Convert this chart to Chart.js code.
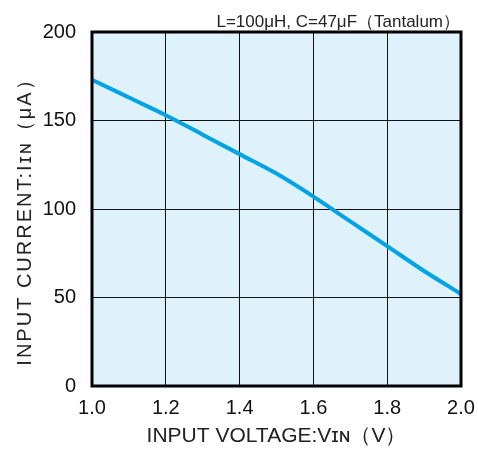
<!DOCTYPE html>
<html><head><meta charset="utf-8">
<script src="https://cdn.jsdelivr.net/npm/chart.js@4/dist/chart.umd.min.js"></script>
<style>html,body{margin:0;padding:0;background:#fff}#wrap{width:478px;height:453px}</style>
</head><body><div id="wrap"><canvas id="c" width="478" height="453"></canvas></div>
<script>
const voltages = [1.0, 1.1, 1.2, 1.3, 1.4, 1.5, 1.6, 1.7, 1.8, 1.9, 2.0];
const currents = [173, 163, 153, 142, 131, 120, 107, 93, 79, 65, 52];
const xTicks = [1.0, 1.2, 1.4, 1.6, 1.8, 2.0];
const yTicks = [0, 50, 100, 150, 200];
const noteText = 'L=100\u03BCH, C=47\u03BCF\uFF08Tantalum\uFF09';
const xTitle = 'INPUT VOLTAGE:V\u026A\u0274\uFF08V\uFF09';
const yTitle = 'INPUT CURRENT:I\u026A\u0274\uFF08\u03BCA\uFF09';

const FONT = '"Liberation Sans", Arial, sans-serif';

const bgPlugin = {
  id: 'bg',
  beforeDraw(chart) {
    const a = chart.chartArea, ctx = chart.ctx;
    ctx.save(); ctx.fillStyle = '#dff1fa';
    ctx.fillRect(a.left, a.top, a.right - a.left, a.bottom - a.top);
    ctx.restore();
  },
  afterDatasetsDraw(chart) {
    const a = chart.chartArea, ctx = chart.ctx;
    ctx.save(); ctx.strokeStyle = '#000'; ctx.lineWidth = 3;
    ctx.strokeRect(a.left, a.top, a.right - a.left, a.bottom - a.top);
    ctx.restore();
  },
  afterDraw(chart) {
    const a = chart.chartArea, ctx = chart.ctx;
    ctx.save();
    ctx.fillStyle = '#222';
    ctx.font = '17px ' + FONT;
    ctx.textAlign = 'right'; ctx.textBaseline = 'alphabetic';
    ctx.fillText(noteText, a.right - 1, a.top - 5);
    ctx.translate(31, (a.top + a.bottom) / 2 + 8);
    ctx.rotate(-Math.PI / 2);
    ctx.textAlign = 'center';
    ctx.font = '20px ' + FONT;
    if ('letterSpacing' in ctx) ctx.letterSpacing = '2px';
    ctx.fillText(yTitle, 0, 0);
    ctx.restore();
  }
};

new Chart(document.getElementById('c'), {
  type: 'line',
  data: {
    datasets: [{
      data: voltages.map((v, i) => ({x: v, y: currents[i]})),
      borderColor: '#00a3e4', borderWidth: 4, pointRadius: 0,
      fill: false, cubicInterpolationMode: 'monotone'
    }]
  },
  options: {
    responsive: false, animation: false,
    layout: {padding: {left: 0, right: 17, top: 32, bottom: 0}},
    plugins: {legend: {display: false}, tooltip: {enabled: false}, title: {display: false}},
    scales: {
      x: {
        type: 'linear', min: 1.0, max: 2.0,
        afterBuildTicks(s) { s.ticks = xTicks.map(v => ({value: v})); },
        afterFit(s) { s.height = 67; s.paddingRight = 0; s.paddingLeft = 0; },
        grid: {color: '#111', lineWidth: 1, drawTicks: false},
        border: {display: false},
        ticks: {color: '#111', padding: 10, font: {family: FONT, size: 20}, callback: v => Number(v).toFixed(1)},
        title: {display: true, text: xTitle, color: '#222', font: {family: FONT, size: 21}, padding: {top: 13}}
      },
      y: {
        min: 0, max: 200,
        afterBuildTicks(s) { s.ticks = yTicks.map(v => ({value: v})); },
        afterFit(s) { s.width = 92; },
        grid: {color: '#111', lineWidth: 1, drawTicks: false},
        border: {display: false},
        ticks: {color: '#111', padding: 16, font: {family: FONT, size: 20}}
      }
    }
  },
  plugins: [bgPlugin]
});
</script></body></html>
